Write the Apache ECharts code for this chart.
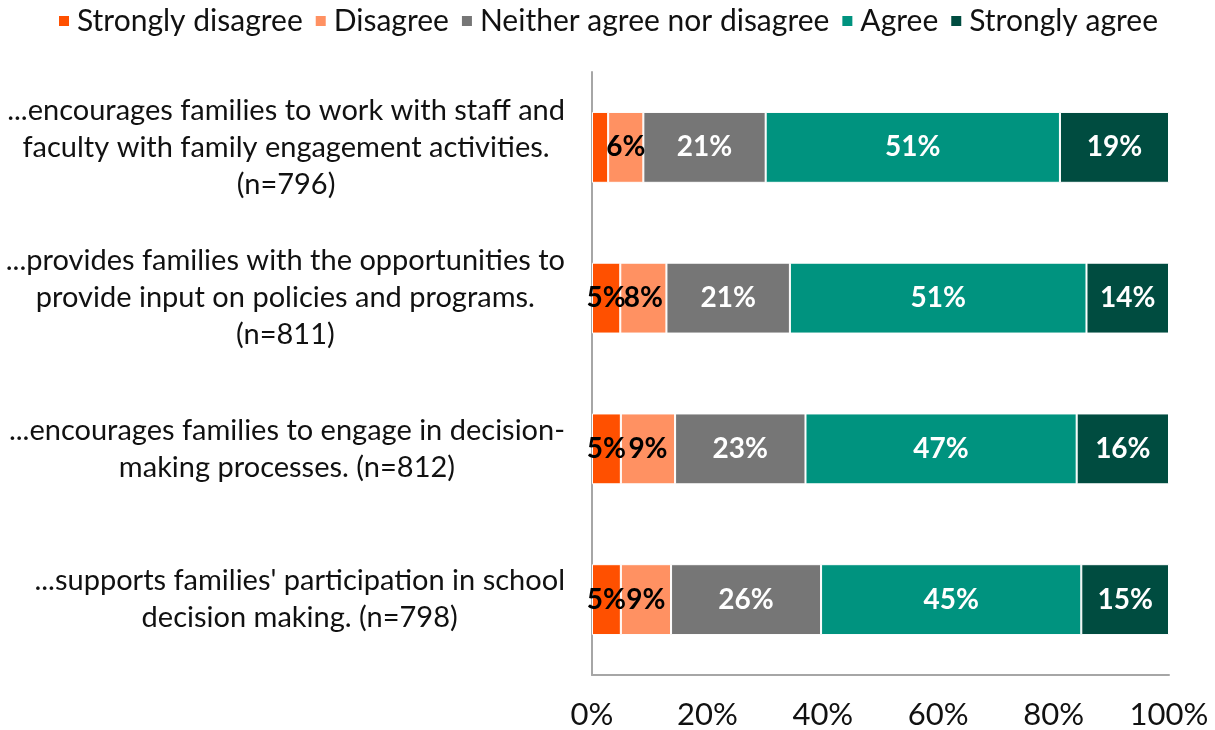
<!DOCTYPE html>
<html><head><meta charset="utf-8">
<script src="https://cdn.jsdelivr.net/npm/echarts@6/dist/echarts.min.js"></script>
<style>html,body{margin:0;padding:0;background:#fff}#c{width:1215px;height:730px}</style>
</head><body><div id="c"></div>
<script>
const categories = [
  "...encourages families to work with staff and\nfaculty with family engagement activities.\n(n=796)",
  "...provides families with the opportunities to\nprovide input on policies and programs.\n(n=811)",
  "...encourages families to engage in decision-\nmaking processes. (n=812)",
  "...supports families' participation in school\ndecision making. (n=798)"
];
const seriesNames = ["Strongly disagree","Disagree","Neither agree nor disagree","Agree","Strongly agree"];
const stronglyDisagree = [2.8, 4.9, 5.0, 5.0];
const disagree = [6.1, 8.0, 9.4, 8.7];
const neither = [21.2, 21.4, 22.6, 26.0];
const agree = [51.0, 51.4, 47.0, 45.1];
const stronglyAgree = [18.9, 14.3, 16.0, 15.2];
const xTicks = [0,20,40,60,80,100];

const colors = ["#FF5000","#FF9162","#767676","#00937F","#004C40"];
const labelColors = ["#000","#000","#fff","#fff","#fff"];
const allData = [stronglyDisagree, disagree, neither, agree, stronglyAgree];

const chart = echarts.init(document.getElementById('c'));
chart.setOption({
  animation:false,
  textStyle:{fontFamily:'Lato'},
  legend:{
    top:1, left:'center', itemWidth:12, itemHeight:12, itemGap:11,
    icon:'rect',
    textStyle:{fontSize:30, color:'#111', fontFamily:'Lato', padding:[0,0,0,2]},
    data:seriesNames
  },
  grid:{left:592, right:46, top:72, bottom:55, containLabel:false},
  xAxis:{
    type:'value', min:0, max:100, interval:20,
    axisLine:{show:true, lineStyle:{color:'#A6A6A6', width:2}},
    axisTick:{show:false},
    splitLine:{show:false},
    axisLabel:{fontSize:31, color:'#111', margin:24, fontFamily:'Lato',
      formatter:v=> xTicks.includes(v) ? v+'%' : ''}
  },
  yAxis:{
    type:'category', inverse:true, data:categories,
    axisLine:{show:true, lineStyle:{color:'#A6A6A6', width:2}},
    axisTick:{show:false},
    axisLabel:{
      margin:27, fontSize:29, color:'#111', fontFamily:'Lato', lineHeight:37,
      formatter:v=> v.split('\n').map(l=>'{c|'+l+'}').join('\n'),
      rich:{c:{align:'center', fontSize:29, lineHeight:37, fontFamily:'Lato', color:'#111'}}
    }
  },
  series: seriesNames.map((n,i)=>({
    name:n, type:'bar', stack:'total', barWidth:'47%',
    data:allData[i],
    itemStyle:{color:colors[i], borderColor:'#fff', borderWidth:1},
    label:{
      show:true, position:'inside', fontSize:28, fontWeight:'bold', fontFamily:'Lato',
      color:labelColors[i],
      formatter:p=> p.value < 4 ? '' : Math.round(p.value)+'%'
    }
  }))
});
</script></body></html>
